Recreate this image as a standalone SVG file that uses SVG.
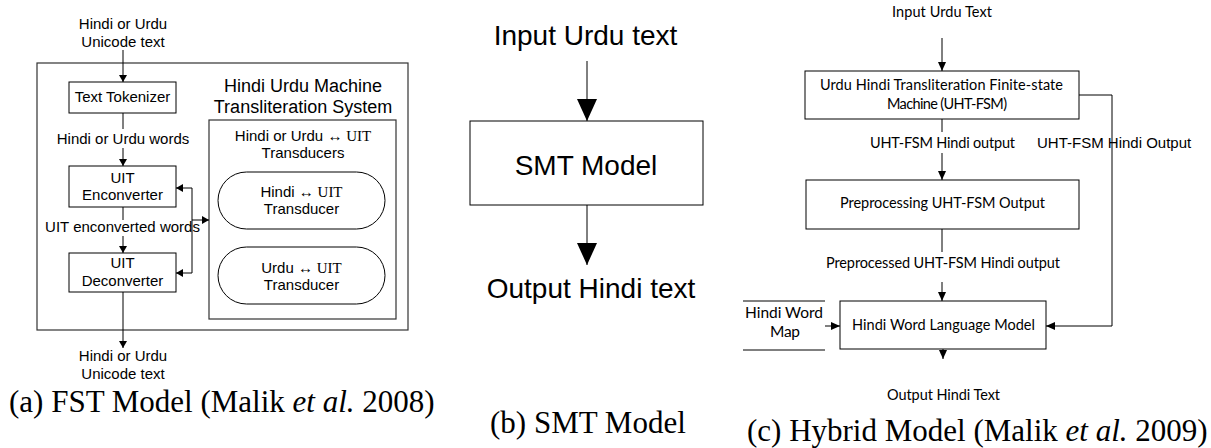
<svg xmlns="http://www.w3.org/2000/svg" width="1211" height="448" viewBox="0 0 1211 448">
<defs>
<style>
.box{fill:#fff;stroke:#000;stroke-width:1}
.frame{fill:none;stroke:#333;stroke-width:1.2}
.ln{fill:none;stroke:#000;stroke-width:1}
.a{font-family:"Liberation Sans",Arial,sans-serif;font-size:15px;fill:#000;text-anchor:middle}
.t{font-family:"Liberation Sans",Arial,sans-serif;font-size:18px;fill:#000;text-anchor:middle}
.s{font-family:"Liberation Serif","Times New Roman",serif}
.b{font-family:"Liberation Sans",Arial,sans-serif;font-size:28px;fill:#000;text-anchor:middle}
.c{font-family:Lato,"Noto Sans",sans-serif;font-size:14.5px;fill:#000;text-anchor:middle}
.cap{font-family:"Liberation Serif","Times New Roman",serif;font-size:31px;fill:#000}
</style>
<marker id="ah" viewBox="0 0 7 8" refX="7" refY="4" markerWidth="7" markerHeight="8" markerUnits="userSpaceOnUse" orient="auto">
<path d="M0,0 L7,4 L0,8 z" fill="#000"/>
</marker>
<marker id="ahc" viewBox="0 0 9 8" refX="9" refY="4" markerWidth="9" markerHeight="8" markerUnits="userSpaceOnUse" orient="auto">
<path d="M0,0 L9,4 L0,8 z" fill="#000"/>
</marker>
<marker id="ahL" viewBox="0 0 22 20" refX="22" refY="10" markerWidth="22" markerHeight="20" markerUnits="userSpaceOnUse" orient="auto">
<path d="M0,0 L22,10 L0,20 z" fill="#000"/>
</marker>
</defs>
<rect width="1211" height="448" fill="#fff"/>

<!-- ===== Panel (a) ===== -->
<g id="a-frame">
<rect class="frame" x="37" y="63" width="371" height="267"/>
</g>
<g id="a-input">
<text class="a" x="123" y="29">Hindi or Urdu</text>
<text class="a" x="123" y="47">Unicode text</text>
</g>
<g id="a-tokenizer">
<rect class="box" x="69" y="82" width="107" height="31"/>
<text class="a" x="122.5" y="102">Text Tokenizer</text>
</g>
<g id="a-enconverter">
<rect class="box" x="69" y="166" width="107" height="41"/>
<text class="a" x="122.5" y="183">UIT</text>
<text class="a" x="122.5" y="200">Enconverter</text>
</g>
<g id="a-deconverter">
<rect class="box" x="69" y="253" width="107" height="39"/>
<text class="a" x="122.5" y="268">UIT</text>
<text class="a" x="122.5" y="286">Deconverter</text>
</g>
<g id="a-output">
<text class="a" x="123" y="361">Hindi or Urdu</text>
<text class="a" x="123" y="379">Unicode text</text>
</g>
<g id="a-system">
<text class="t" x="303" y="92">Hindi Urdu Machine</text>
<text class="t" x="303" y="113">Transliteration System</text>
</g>
<g id="a-transducers">
<rect class="frame" x="209" y="120" width="187" height="199"/>
<text class="a" x="303" y="141">Hindi or Urdu <tspan class="s">↔ UIT</tspan></text>
<text class="a" x="303" y="158">Transducers</text>
</g>
<g id="a-hindi-transducer">
<rect class="box" x="218" y="172" width="167" height="57" rx="28.5" ry="28.5"/>
<text class="a" x="301.5" y="197">Hindi <tspan class="s">↔ UIT</tspan></text>
<text class="a" x="301.5" y="214">Transducer</text>
</g>
<g id="a-urdu-transducer">
<rect class="box" x="218" y="247" width="167" height="57" rx="28.5" ry="28.5"/>
<text class="a" x="301.5" y="273">Urdu <tspan class="s">↔ UIT</tspan></text>
<text class="a" x="301.5" y="290">Transducer</text>
</g>
<g id="a-labels">
<text class="a" x="123" y="144">Hindi or Urdu words</text>
<text class="a" x="122.5" y="232">UIT enconverted words</text>
</g>
<text class="cap" x="9" y="412">(a) FST Model (Malik <tspan font-style="italic">et al.</tspan> 2008)</text>

<!-- ===== Panel (b) ===== -->
<g id="b-input">
<text class="b" x="585.5" y="45">Input Urdu text</text>
</g>
<g id="b-smt">
<rect class="box" x="470" y="121" width="233" height="84"/>
<text class="b" x="586" y="175">SMT Model</text>
</g>
<g id="b-output">
<text class="b" x="591" y="298">Output Hindi text</text>
</g>
<text class="cap" x="490" y="433">(b) SMT Model</text>

<!-- ===== Panel (c) ===== -->
<g id="c-input">
<text class="c" x="942" y="17" textLength="100">Input Urdu Text</text>
</g>
<g id="c-fsm">
<rect class="box" x="805" y="71" width="274" height="48"/>
<text class="c" x="941.5" y="90" textLength="243">Urdu Hindi Transliteration Finite-state</text>
<text class="c" x="947" y="109" textLength="120">Machine (UHT-FSM)</text>
</g>
<g id="c-preprocessing">
<rect class="box" x="806" y="180" width="273" height="49"/>
<text class="c" x="942.5" y="208" textLength="205">Preprocessing UHT-FSM Output</text>
</g>
<g id="c-lm">
<rect class="box" x="840" y="301" width="206" height="48"/>
<text class="c" x="943.5" y="330" textLength="183">Hindi Word Language Model</text>
</g>
<g id="c-wordmap">
<line class="ln" x1="743" y1="301" x2="825" y2="301"/>
<line class="ln" x1="743" y1="350" x2="825" y2="350"/>
<text class="c" x="784" y="318" style="font-size:15.5px" textLength="78">Hindi Word</text>
<text class="c" x="785" y="337" style="font-size:15.5px" textLength="30">Map</text>
</g>
<g id="c-output">
<text class="c" x="943.5" y="400" textLength="113">Output Hindi Text</text>
</g>
<g id="c-labels">
<text class="c" x="942.5" y="148" textLength="145">UHT-FSM Hindi output</text>
<text class="c" x="943" y="268" textLength="234">Preprocessed UHT-FSM Hindi output</text>
<text class="a" x="1037" y="148" style="text-anchor:start">UHT-FSM Hindi Output</text>
</g>
<text class="cap" x="747" y="441">(c) Hybrid Model (Malik <tspan font-style="italic">et al.</tspan> 2009)</text>

<!-- ===== Connectors ===== -->
<g id="connectors">
<!-- (a) -->
<path class="ln" d="M123,50 V82" marker-end="url(#ah)"/>
<path class="ln" d="M123,113 V129"/>
<path class="ln" d="M123,148 V166" marker-end="url(#ah)"/>
<path class="ln" d="M123,207 V220"/>
<path class="ln" d="M123,236 V253" marker-end="url(#ah)"/>
<path class="ln" d="M123,292 V348" marker-end="url(#ah)"/>
<path class="ln" d="M192,188 V273"/>
<path class="ln" d="M192,188 H176" marker-end="url(#ah)"/>
<path class="ln" d="M192,273 H176" marker-end="url(#ah)"/>
<path class="ln" d="M192,220 H209" marker-end="url(#ah)"/>
<!-- (b) -->
<path class="ln" d="M587,61 V121" marker-end="url(#ahL)"/>
<path class="ln" d="M587,205 V265" marker-end="url(#ahL)"/>
<!-- (c) -->
<path class="ln" d="M942,38 V71" marker-end="url(#ahc)"/>
<path class="ln" d="M942,119 V132"/>
<path class="ln" d="M942,153 V180" marker-end="url(#ahc)"/>
<path class="ln" d="M942,229 V252"/>
<path class="ln" d="M942,282 V301" marker-end="url(#ahc)"/>
<path class="ln" d="M1079,95 H1112 V326 H1046" marker-end="url(#ahc)"/>
<path class="ln" d="M825,326 H840" marker-end="url(#ahc)"/>
<path class="ln" d="M943,349 V359" marker-end="url(#ahc)"/>
</g>
</svg>
